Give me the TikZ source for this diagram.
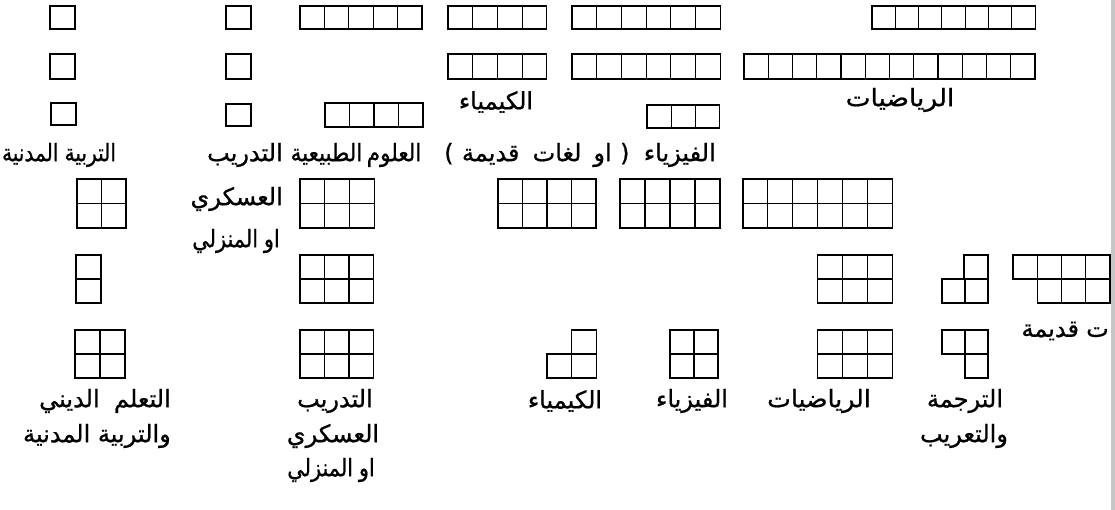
\documentclass[tikz,border=0pt]{standalone}
\usepackage{graphicx}
\usepackage{fontspec}
\newfontfamily\arabicfont[Script=Arabic,FakeBold=0.8]{DejaVu Sans}
\TeXXeTstate=1
\newcommand{\cellrow}[5]{% x0 y0 n w h
  \foreach \k in {1,...,#3}{\draw[cellline] ({#1+(\k-1)*#4},#2) rectangle ++(#4,#5);}}
\newcommand{\cellgrid}[6]{% x0 y0 ncols nrows w h
  \foreach \r in {1,...,#4}{\foreach \k in {1,...,#3}{\draw[cellline] ({#1+(\k-1)*#5},{#2+(\r-1)*#6}) rectangle ++(#5,#6);}}}
\begin{document}
\begin{tikzpicture}[x=1pt,y=-1pt,
  cellline/.style={line width=1.1pt, line join=miter},
  lbl/.style={inner sep=0pt, font=\arabicfont\fontsize{24}{28}\selectfont}]
\useasboundingbox (0,0) rectangle (1115,510);
\fill[white] (0,0) rectangle (1115,510);
\fill[gray!45] (1110.5,0) rectangle (1115,510);
% ---------- upper part ----------
% row 1
\cellrow{50}{6}{1}{25}{23}
\cellrow{226}{6}{1}{25}{23}
\cellrow{300}{6}{5}{24.4}{23}
\cellrow{448}{6}{4}{24.7}{23}
\cellrow{572}{6}{6}{24.7}{23}
\cellrow{872}{6}{7}{23.3}{23}
% row 2
\cellrow{50}{54}{1}{25}{25}
\cellrow{226}{54}{1}{25}{25}
\cellrow{448}{54}{4}{24.7}{25}
\cellrow{572}{54}{6}{24.7}{25}
\cellrow{744}{54}{12}{24.25}{25}
% row 3
\cellrow{51}{103}{1}{25}{22}
\cellrow{226}{104}{1}{25}{22}
\cellrow{325}{103}{4}{24.5}{24}
\cellrow{647}{105}{3}{24.3}{23}
% labels
\node[lbl] (chemTop) at (496,102) {\beginR الكيمياء\endR};
\node[lbl] (mathTop) at (900,100) {\scalebox{1.1}[1]{\beginR الرياضيات\endR}};
\node[lbl] (civTop) at (59,155) {\scalebox{0.84}[1]{\beginR التربية\hspace{0.3em}المدنية\endR}};
\node[lbl,anchor=east] (trainTopA) at (283,155) {\beginR التدريب\endR};
\node[lbl,anchor=east] (trainTopB) at (283,199) {\beginR العسكري\endR};
\node[lbl,anchor=east] (trainTopC) at (280,241) {\scalebox{0.87}[1]{\beginR او\hspace{0.28em}المنزلي\endR}};
\node[lbl] (sciTop) at (356,155) {\scalebox{0.9}[1]{\beginR العلوم\hspace{0.2em}الطبيعية\endR}};
\node[lbl] (physTop) at (580,155) {\beginR الفيزياء\hspace{0.6em}(\hspace{0.35em}او\hspace{0.5em}لغات\hspace{0.55em}قديمة\hspace{0.35em})\endR};
% ---------- lower part ----------
% row A
\cellgrid{77}{179}{2}{2}{24.5}{24.5}
\cellgrid{300}{179}{3}{2}{24.7}{24.5}
\cellgrid{498}{179}{4}{2}{24.5}{24.5}
\cellgrid{620}{179}{4}{2}{25}{24.5}
\cellgrid{743}{179}{6}{2}{24.9}{24.5}
% row B
\cellgrid{76}{255}{1}{2}{25}{24}
\cellgrid{300}{255}{3}{2}{24.5}{24}
\cellgrid{817.5}{255}{3}{2}{25}{24}
\cellrow{964}{255}{1}{24}{24}
\cellrow{942}{279}{2}{23}{24}
\cellrow{1013}{255}{4}{24.25}{24}
\cellrow{1037.25}{279}{3}{24.25}{24}
\node[lbl,anchor=east] (langRight) at (1109,331) {\beginR ت\hspace{0.3em}قديمة\endR};
% row C
\cellgrid{75}{330}{2}{2}{25}{24}
\cellgrid{300}{330}{3}{2}{24.5}{24}
\cellrow{571.5}{330}{1}{25}{24}
\cellrow{547}{354}{2}{24.75}{24}
\cellgrid{670}{330}{2}{2}{24}{24}
\cellgrid{817.5}{330}{3}{2}{25}{24}
\cellrow{942}{330}{2}{23}{24}
\cellrow{965}{354}{1}{23}{24}
% bottom labels
\node[lbl,anchor=east] (relA) at (171,401) {\beginR التعلم\hspace{0.6em}الديني\endR};
\node[lbl,anchor=east] (relB) at (171,436) {\beginR والتربية المدنية\endR};
\node[lbl] (trainBotA) at (335,401) {\beginR التدريب\endR};
\node[lbl] (trainBotB) at (333,436) {\beginR العسكري\endR};
\node[lbl] (trainBotC) at (331,470) {\scalebox{0.87}[1]{\beginR او\hspace{0.28em}المنزلي\endR}};
\node[lbl] (chemBot) at (565,401) {\beginR الكيمياء\endR};
\node[lbl] (physBot) at (692,401) {\beginR الفيزياء\endR};
\node[lbl] (mathBot) at (819,401) {\scalebox{1.05}[1]{\beginR الرياضيات\endR}};
\node[lbl] (transA) at (965,401) {\beginR الترجمة\endR};
\node[lbl] (transB) at (964,436) {\beginR والتعريب\endR};
\end{tikzpicture}
\end{document}
